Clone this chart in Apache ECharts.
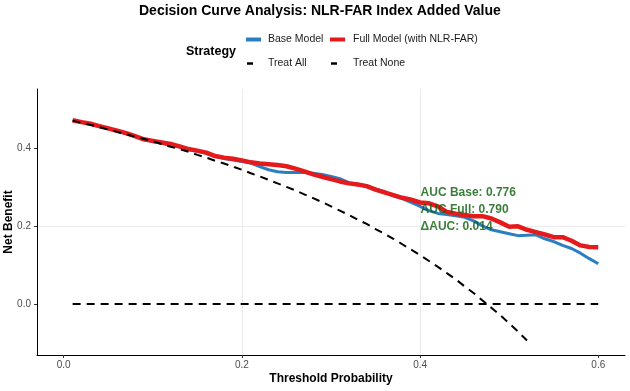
<!DOCTYPE html>
<html>
<head>
<meta charset="utf-8">
<script src="https://cdn.jsdelivr.net/npm/echarts@6/dist/echarts.min.js"></script>
<style>
  html, body { margin: 0; padding: 0; background: #fff; }
  #chart { width: 630px; height: 391px; }
</style>
</head>
<body>
<div id="chart"></div>
<script>
// threshold probabilities (0.01 .. 0.60)
const thresholds = [
  0.01, 0.02, 0.03, 0.04, 0.05, 0.06, 0.07, 0.08, 0.09, 0.10,
  0.11, 0.12, 0.13, 0.14, 0.15, 0.16, 0.17, 0.18, 0.19, 0.20,
  0.21, 0.22, 0.23, 0.24, 0.25, 0.26, 0.27, 0.28, 0.29, 0.30,
  0.31, 0.32, 0.33, 0.34, 0.35, 0.36, 0.37, 0.38, 0.39, 0.40,
  0.41, 0.42, 0.43, 0.44, 0.45, 0.46, 0.47, 0.48, 0.49, 0.50,
  0.51, 0.52, 0.53, 0.54, 0.55, 0.56, 0.57, 0.58, 0.59, 0.60
]

const baseModel = [
  0.471, 0.466, 0.461, 0.455, 0.449, 0.443, 0.437, 0.429, 0.421, 0.416,
  0.412, 0.407, 0.402, 0.396, 0.391, 0.386, 0.378, 0.373, 0.369, 0.365,
  0.361, 0.352, 0.344, 0.339, 0.337, 0.337, 0.337, 0.335, 0.332, 0.327,
  0.321, 0.311, 0.307, 0.302, 0.295, 0.288, 0.277, 0.270, 0.260, 0.250,
  0.239, 0.232, 0.229, 0.226, 0.222, 0.213, 0.200, 0.190, 0.185, 0.180,
  0.175, 0.176, 0.177, 0.167, 0.160, 0.150, 0.142, 0.130, 0.116, 0.103
]

const fullModel = [
  0.471, 0.466, 0.462, 0.456, 0.450, 0.444, 0.438, 0.430, 0.422, 0.418,
  0.414, 0.410, 0.404, 0.397, 0.393, 0.388, 0.379, 0.375, 0.372, 0.368,
  0.363, 0.360, 0.358, 0.356, 0.353, 0.347, 0.340, 0.332, 0.326, 0.320,
  0.314, 0.309, 0.306, 0.302, 0.293, 0.286, 0.279, 0.272, 0.267, 0.260,
  0.258, 0.250, 0.236, 0.231, 0.228, 0.225, 0.225, 0.219, 0.209, 0.198,
  0.199, 0.190, 0.184, 0.178, 0.171, 0.171, 0.162, 0.150, 0.146, 0.145
]

// treat all is drawn up to 0.52 only
const treatAll = [
  0.470, 0.464, 0.459, 0.453, 0.447, 0.441, 0.435, 0.429, 0.423, 0.417,
  0.410, 0.403, 0.397, 0.390, 0.382, 0.375, 0.367, 0.360, 0.352, 0.344,
  0.335, 0.327, 0.318, 0.309, 0.300, 0.291, 0.281, 0.271, 0.261, 0.250,
  0.239, 0.228, 0.216, 0.205, 0.192, 0.180, 0.167, 0.153, 0.139, 0.125,
  0.110, 0.095, 0.079, 0.063, 0.045, 0.028, 0.009, -0.010, -0.029, -0.050,
  -0.071, -0.094
]

const treatNone = thresholds.map(() => 0)

const xTicks = [0, 0.2, 0.4, 0.6]
const yTicks = [0, 0.2, 0.4]

const aucLines = ['AUC Base: 0.776', 'AUC Full: 0.790', 'ΔAUC: 0.014']

const pairs = (ys) => ys.map((v, i) => [thresholds[i], v])

const font = 'Liberation Sans, Arial, sans-serif'
const mChart = echarts.init(document.getElementById('chart'))

const legendBase = {
  orient: 'horizontal',
  padding: 0,
  icon: 'rect',
  selectedMode: false,
  textStyle: { fontFamily: font, fontSize: 10.5, color: '#1a1a1a' }
}

const option = {
  animation: false,
  title: [
    {
      text: 'Decision Curve Analysis: NLR-FAR Index Added Value',
      left: 139,
      top: 4,
      padding: 0,
      textStyle: { fontFamily: font, fontSize: 14, fontWeight: 'bold', color: '#000' }
    },
    {
      text: 'Strategy',
      left: 186,
      top: 45,
      padding: 0,
      textStyle: { fontFamily: font, fontSize: 12.5, fontWeight: 'bold', color: '#000' }
    }
  ],
  legend: [
    Object.assign({}, legendBase, {
      data: ['Base Model'], left: 246, top: 34, itemWidth: 15, itemHeight: 4,
      textStyle: Object.assign({}, legendBase.textStyle, { padding: [0, 0, 0, 2] })
    }),
    Object.assign({}, legendBase, {
      data: ['Full Model (with NLR-FAR)'], left: 330, top: 34, itemWidth: 15, itemHeight: 4,
      textStyle: Object.assign({}, legendBase.textStyle, { padding: [0, 0, 0, 3] })
    }),
    Object.assign({}, legendBase, {
      data: ['Treat All'], left: 247, top: 58, itemWidth: 6, itemHeight: 2.5,
      textStyle: Object.assign({}, legendBase.textStyle, { padding: [0, 0, 0, 10] })
    }),
    Object.assign({}, legendBase, {
      data: ['Treat None'], left: 331, top: 58, itemWidth: 6, itemHeight: 2.5,
      textStyle: Object.assign({}, legendBase.textStyle, { padding: [0, 0, 0, 11] })
    })
  ],
  grid: { left: 37, right: 5, top: 89, bottom: 36, outerBoundsMode: 'none', containLabel: false },
  xAxis: {
    type: 'value',
    min: -0.03,
    max: 0.63,
    splitNumber: 3,
    name: 'Threshold Probability',
    nameLocation: 'middle',
    nameGap: 18,
    nameMoveOverlap: false,
    nameTextStyle: { fontFamily: font, fontSize: 12, fontWeight: 'bold', color: '#000' },
    axisLine: { show: true, onZero: false, lineStyle: { color: '#000', width: 1 } },
    axisTick: { show: true, length: 3, customValues: xTicks, lineStyle: { color: '#333' } },
    axisLabel: {
      customValues: xTicks,
      margin: 5,
      fontFamily: font,
      fontSize: 10,
      color: '#4d4d4d',
      formatter: (v) => v.toFixed(1)
    },
    splitLine: { show: true, showMinLine: false, showMaxLine: false, lineStyle: { color: '#ebebeb', width: 1 } }
  },
  yAxis: {
    type: 'value',
    min: -0.131,
    max: 0.551,
    splitNumber: 3,
    name: 'Net Benefit',
    nameLocation: 'middle',
    nameGap: 22,
    nameMoveOverlap: false,
    nameTextStyle: { fontFamily: font, fontSize: 12, fontWeight: 'bold', color: '#000' },
    axisLine: { show: true, onZero: false, lineStyle: { color: '#000', width: 1 } },
    axisTick: { show: true, length: 3, customValues: yTicks, lineStyle: { color: '#333' } },
    axisLabel: {
      customValues: yTicks,
      margin: 6,
      fontFamily: font,
      fontSize: 10,
      color: '#4d4d4d',
      formatter: (v) => v.toFixed(1)
    },
    splitLine: { show: true, showMinLine: false, showMaxLine: false, lineStyle: { color: '#ebebeb', width: 1 } }
  },
  series: [
    {
      name: 'Base Model',
      type: 'line',
      data: pairs(baseModel),
      showSymbol: false,
      itemStyle: { color: '#2b7fc0' },
      lineStyle: { color: '#2b7fc0', width: 3 },
      z: 2
    },
    {
      name: 'Full Model (with NLR-FAR)',
      type: 'line',
      data: pairs(fullModel),
      showSymbol: false,
      itemStyle: { color: '#e41a1c' },
      lineStyle: { color: '#e41a1c', width: 4.5 },
      z: 3
    },
    {
      name: 'Treat All',
      type: 'line',
      data: pairs(treatAll),
      showSymbol: false,
      itemStyle: { color: '#000' },
      lineStyle: { color: '#000', width: 2, type: [8, 6] },
      z: 4
    },
    {
      name: 'Treat None',
      type: 'line',
      data: pairs(treatNone),
      showSymbol: false,
      itemStyle: { color: '#000' },
      lineStyle: { color: '#000', width: 2, type: [8, 6] },
      z: 4
    },
    {
      name: 'annotation',
      type: 'scatter',
      data: [[0.4, 0.242]],
      symbolSize: 1,
      itemStyle: { color: 'rgba(0,0,0,0)' },
      silent: true,
      z: 5,
      label: {
        show: true,
        position: 'right',
        distance: 0,
        align: 'left',
        verticalAlign: 'middle',
        formatter: aucLines.join('\n'),
        fontFamily: font,
        fontSize: 12,
        fontWeight: 'bold',
        lineHeight: 17,
        color: '#0a5e0a'
      }
    }
  ]
}

mChart.setOption(option)
</script>
</body>
</html>
